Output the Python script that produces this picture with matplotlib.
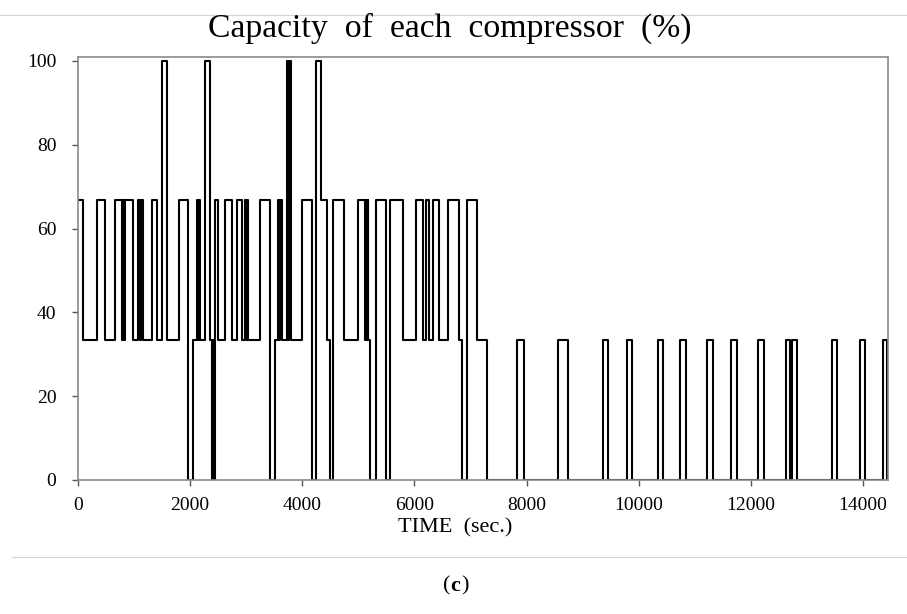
import matplotlib
matplotlib.use("Agg")
import matplotlib.pyplot as plt
from matplotlib.lines import Line2D

# Step changes of the compressor capacity: time (s) at which the level changes, new level (%)
change_times = [0, 95, 344, 482, 660, 776, 797, 820, 847, 986, 1075, 1106, 1124, 1154,
                1314, 1409, 1498, 1587, 1801, 1967, 2042, 2117, 2146, 2163, 2176, 2265,
                2354, 2390, 2408, 2426, 2452, 2502, 2622, 2752, 2830, 2930, 2978, 3005,
                3019, 3037, 3246, 3424, 3513, 3567, 3590, 3608, 3633, 3722, 3745, 3763,
                3793, 3990, 4168, 4250, 4339, 4441, 4494, 4553, 4735, 4994, 5110, 5128,
                5145, 5163, 5177, 5208, 5306, 5484, 5556, 5796, 6028, 6148, 6201, 6266,
                6337, 6444, 6604, 6801, 6843, 6932, 7111, 7289, 7835, 7954, 8566, 8734,
                9369, 9458, 9786, 9886, 10350, 10439, 10737, 10838, 11224, 11331, 11641,
                11748, 12133, 12235, 12627, 12699, 12729, 12818, 13453, 13542, 13947,
                14036, 14352, 14430]
capacity_levels = [66.7, 33.3, 66.7, 33.3, 66.7, 33.3, 66.7, 33.3, 66.7, 33.3, 66.7, 33.3, 66.7, 33.3,
                   66.7, 33.3, 100, 33.3, 66.7, 0, 33.3, 66.7, 33.3, 66.7, 33.3, 100,
                   33.3, 0, 33.3, 0, 66.7, 33.3, 66.7, 33.3, 66.7, 33.3, 66.7, 33.3,
                   66.7, 33.3, 66.7, 0, 33.3, 66.7, 33.3, 66.7, 33.3, 100, 33.3, 100,
                   33.3, 66.7, 0, 100, 66.7, 33.3, 0, 66.7, 33.3, 66.7, 33.3, 66.7,
                   33.3, 66.7, 33.3, 0, 66.7, 0, 66.7, 33.3, 66.7, 33.3, 66.7, 33.3,
                   66.7, 33.3, 66.7, 33.3, 0, 66.7, 33.3, 0, 33.3, 0, 33.3, 0,
                   33.3, 0, 33.3, 0, 33.3, 0, 33.3, 0, 33.3, 0, 33.3,
                   0, 33.3, 0, 33.3, 0, 33.3, 0, 33.3, 0, 33.3,
                   0, 33.3, 0]

x_ticks = [0, 2000, 4000, 6000, 8000, 10000, 12000, 14000]
y_ticks = [0, 20, 40, 60, 80, 100]
title_text = "Capacity  of  each  compressor  (%)"
xlabel_text = "TIME  (sec.)"

plt.rcParams['font.family'] = ['Liberation Serif', 'DejaVu Serif']

fig = plt.figure(figsize=(9.07, 6.14), dpi=100)
W, H = 907, 614
ax = fig.add_axes([78 / W, 1 - 480 / H, (887.7 - 78) / W, (480 - 56.7) / H])

ax.step(change_times, capacity_levels, where='post', color='black', lw=1.5)

ax.set_xlim(0, 14440)
ax.set_ylim(0, 101)
ax.set_xticks(x_ticks)
ax.set_yticks(y_ticks)
ax.set_xticklabels([str(v) for v in x_ticks])
ax.set_yticklabels([str(v) for v in y_ticks])
ax.tick_params(axis='both', direction='out', length=4.5, width=1, color='#555555',
               labelsize=14, labelcolor='black')
ax.tick_params(axis='x', pad=8)
ax.tick_params(axis='y', pad=11)
for s in ax.spines.values():
    s.set_color('#8a8a8a')
    s.set_linewidth(1.2)

fig.text(449.5 / W, 1 - 37 / H, title_text, ha='center', va='baseline', fontsize=24.3)
fig.text(455 / W, 1 - 528 / H, xlabel_text, ha='center', va='center', fontsize=16)

# page separator lines
fig.add_artist(Line2D([0, 1], [1 - 15 / H, 1 - 15 / H], transform=fig.transFigure,
                      color='#d4d4d4', lw=0.8))
fig.add_artist(Line2D([12 / W, 1], [1 - 557 / H, 1 - 557 / H], transform=fig.transFigure,
                      color='#d4d4d4', lw=0.8))

fig.text(450 / W, 1 - 586 / H, "(", ha='right', va='center', fontsize=16)
fig.text(450 / W, 1 - 586 / H, "c", ha='left', va='center', fontsize=16, fontweight='bold')
fig.text(461 / W, 1 - 586 / H, ")", ha='left', va='center', fontsize=16)

fig.savefig("out.png", dpi=100)
